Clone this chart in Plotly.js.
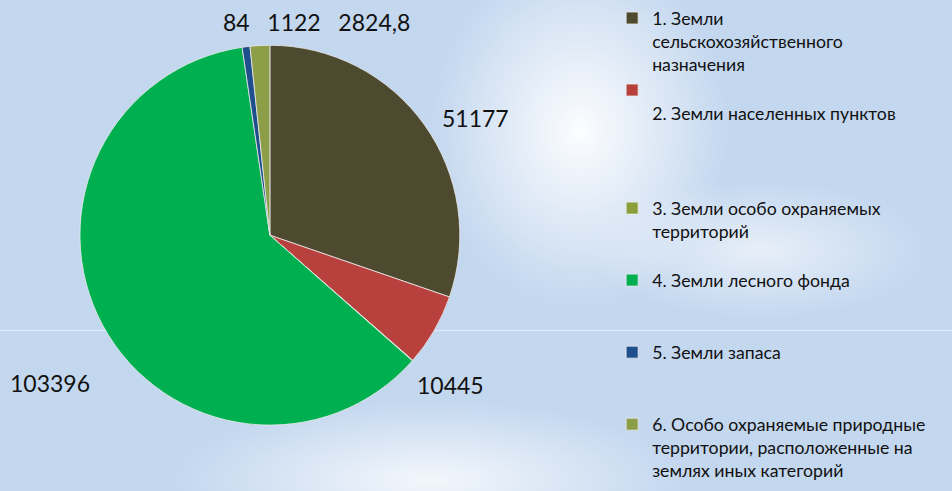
<!DOCTYPE html>
<html><head><meta charset="utf-8">
<script src="https://cdn.plot.ly/plotly-3.0.1.min.js"></script>
<style>
html,body{margin:0;padding:0;}
body{width:952px;height:491px;overflow:hidden;
background:
 radial-gradient(ellipse 150px 180px at 580px 130px, rgba(255,255,255,0.95), rgba(255,255,255,0) 100%),
 radial-gradient(ellipse 260px 80px at 430px 480px, rgba(255,255,255,0.8), rgba(255,255,255,0) 100%),
 radial-gradient(ellipse 170px 70px at 760px 250px, rgba(255,255,255,0.6), rgba(255,255,255,0) 100%),
 #c3d7ef;}
#line{position:absolute;left:0;top:330px;width:952px;height:1px;background:rgba(255,255,255,0.5);}
#chart{position:absolute;left:0;top:0;width:952px;height:491px;}
</style></head>
<body><div id="line"></div><div id="chart"></div>
<script>
const categories = [
  "1. Земли<br>сельскохозяйственного<br>назначения",
  " <br>2. Земли населенных пунктов<br> <br> <br> ",
  "3. Земли особо охраняемых<br>территорий<br> ",
  "4. Земли лесного фонда<br> <br> ",
  "5. Земли запаса<br> <br> ",
  "6. Особо охраняемые природные<br>территории, расположенные на<br>землях иных категорий"
];
const values = [51177, 10445, 84, 103396, 1122, 2824.8];
const valueLabels = ["51177", "10445", "84", "103396", "1122", "2824,8"];
const colors = ["#4e4a30", "#b8403d", "#8a9e3a", "#00b050", "#1f4e8c", "#8c9e48"];

const labelFont = {family: "Lato, 'Open Sans', sans-serif", size: 23, color: "#111"};

const data = [{
  type: "pie",
  labels: categories,
  values: values,
  textinfo: "none",
  sort: false,
  direction: "clockwise",
  rotation: 0,
  marker: {colors: colors, line: {color: "rgba(235,235,235,0.8)", width: 1}},
  domain: {x: [0.084, 0.483], y: [0.134, 0.908]},
  hoverinfo: "label+value"
}];

// data labels placed as in the reference (small slices are grouped above the pie)
function ann(text, x, y) {
  return {xref: "paper", yref: "paper", x: x, y: y, xanchor: "center", yanchor: "middle",
          showarrow: false, text: text, font: labelFont};
}
const annotations = [
  ann(valueLabels[0], 475 / 952, 1 - 118 / 491),
  ann(valueLabels[1], 450 / 952, 1 - 385 / 491),
  ann(valueLabels[3], 50 / 952, 1 - 383 / 491),
  ann([valueLabels[2], valueLabels[4], valueLabels[5]].join("   "), 316 / 952, 1 - 22 / 491)
];

const layout = {
  width: 952, height: 491,
  margin: {l: 0, r: 0, t: 0, b: 0},
  paper_bgcolor: "rgba(0,0,0,0)",
  plot_bgcolor: "rgba(0,0,0,0)",
  showlegend: true,
  legend: {
    x: 0.643, y: 1.0, xanchor: "left", yanchor: "top",
    font: {family: "Lato, 'Open Sans', sans-serif", size: 17.7, color: "#111"},
    bgcolor: "rgba(0,0,0,0)",
    valign: "top",
    itemwidth: 30,
    tracegroupgap: 0
  },
  annotations: annotations
};

Plotly.newPlot("chart", data, layout, {displayModeBar: false, staticPlot: true});
</script></body></html>
